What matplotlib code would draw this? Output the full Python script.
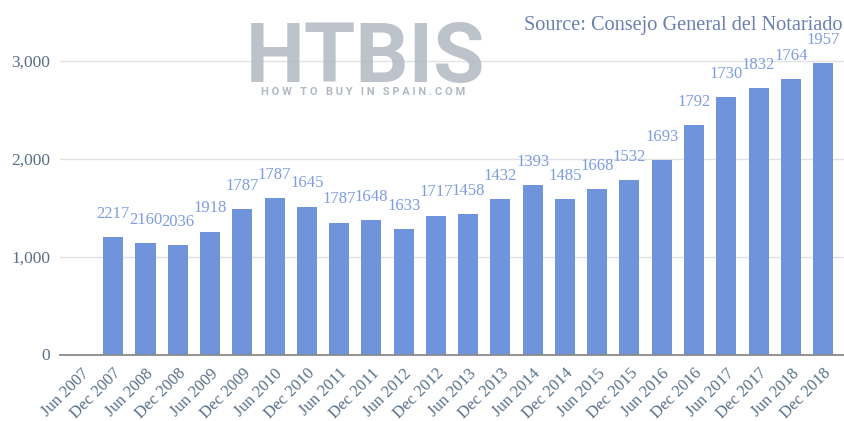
import numpy as np
import matplotlib
matplotlib.use("Agg")
import matplotlib.pyplot as plt
from matplotlib.transforms import ScaledTranslation

# x-axis categories (first slot has no bar)
periods = ['Jun 2007', 'Dec 2007', 'Jun 2008', 'Dec 2008', 'Jun 2009', 'Dec 2009',
           'Jun 2010', 'Dec 2010', 'Jun 2011', 'Dec 2011', 'Jun 2012', 'Dec 2012',
           'Jun 2013', 'Dec 2013', 'Jun 2014', 'Dec 2014', 'Jun 2015', 'Dec 2015',
           'Jun 2016', 'Dec 2016', 'Jun 2017', 'Dec 2017', 'Jun 2018', 'Dec 2018']

# bar heights
bar_values = [1200, 1137, 1119, 1255, 1484, 1597, 1511, 1347, 1375, 1283, 1419,
              1433, 1586, 1729, 1586, 1688, 1780, 1988, 2346, 2629, 2721, 2813, 2977]

# numbers printed above the bars
bar_labels = ['2217', '2160', '2036', '1918', '1787', '1787', '1645', '1787', '1648',
              '1633', '1717', '1458', '1432', '1393', '1485', '1668', '1532', '1693',
              '1792', '1730', '1832', '1764', '1957']

yticks = [0, 1000, 2000, 3000]

serif = ['Liberation Serif', 'DejaVu Serif']

fig = plt.figure(figsize=(8.45, 4.21), dpi=100)
ax = fig.add_axes([60 / 845, 66.5 / 421, 785 / 845, 354.5 / 421])

x = np.arange(1, len(bar_values) + 1)
bars = ax.bar(x, bar_values, width=0.62, color='#6f94dc', zorder=3)
ax.bar_label(bars, labels=bar_labels, padding=11, color='#7d9de2',
             fontsize=12, family=serif, zorder=4)

ax.set_xlim(-0.65, 23.68)
ax.set_ylim(0, 3624)

ax.set_yticks(yticks)
ax.set_yticklabels([f'{v:,}' for v in yticks], family=serif, fontsize=12.5, color='#587089')
ax.yaxis.grid(True, color='#e2e2e2', linewidth=1, zorder=0)

ax.set_xticks(np.arange(len(periods)))
ax.set_xticklabels(periods, rotation=45, ha='right', rotation_mode='anchor',
                   family=serif, fontsize=12, color='#587089')
for lbl in ax.get_xticklabels():
    lbl.set_transform(lbl.get_transform() + ScaledTranslation(8 / 72, 0, fig.dpi_scale_trans))

ax.tick_params(axis='both', length=0)
ax.tick_params(axis='y', pad=7)
ax.tick_params(axis='x', pad=8)
for side in ['top', 'right', 'left']:
    ax.spines[side].set_visible(False)
ax.spines['bottom'].set_color('#8a8a8a')
ax.spines['bottom'].set_linewidth(1.3)
ax.spines['bottom'].set_zorder(5)

# title cut off at the top edge
fig.text(12 / 845, 1 + 5 / 421, 'price (€/m²)', family=serif, fontsize=18,
         color='#3f5a78', ha='left', va='baseline')

# source note
fig.text(524 / 845, 1 - 30 / 421, 'Source: Consejo General del Notariado', family=serif,
         fontsize=14.6, color='#6a80b2', ha='left', va='baseline')

# watermark
fig.text(365 / 845, 1 - 82 / 421, 'HTBIS', family=['Roboto', 'DejaVu Sans'], fontweight='bold',
         fontsize=60, color='#b2b9c1', alpha=0.85, ha='center', va='baseline', zorder=6)
fig.text(363 / 845, 1 - 92 / 421, 'H O W   T O   B U Y   I N   S P A I N . C O M',
         family=['Roboto', 'DejaVu Sans'], fontweight='bold', fontsize=8,
         color='#b3b9c0', ha='center', va='center', zorder=6)

fig.savefig('out.png', dpi=100)
